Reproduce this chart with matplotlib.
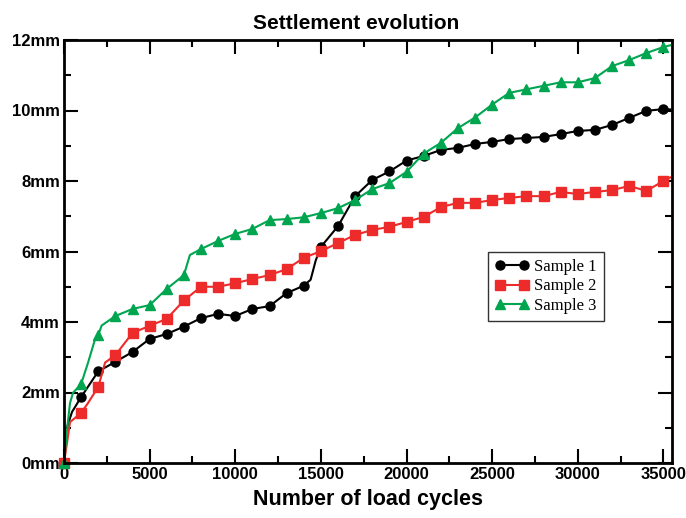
import numpy as np
import matplotlib
matplotlib.use("Agg")
import matplotlib.pyplot as plt
from matplotlib.ticker import MultipleLocator, FuncFormatter

# cycles where the markers sit (every 1000 load cycles)
marker_cycles = list(range(0, 35001, 1000))

sample1 = [0.0, 1.87, 2.60, 2.87, 3.15, 3.52, 3.66, 3.87, 4.11, 4.23,
           4.17, 4.37, 4.45, 4.82, 5.03, 6.13, 6.72, 7.57, 8.03, 8.27,
           8.58, 8.71, 8.88, 8.94, 9.05, 9.11, 9.19, 9.22, 9.25, 9.33,
           9.42, 9.45, 9.59, 9.79, 9.99, 10.04]
sample2 = [0.0, 1.42, 2.16, 3.06, 3.69, 3.89, 4.09, 4.61, 5.00, 5.00,
           5.10, 5.22, 5.33, 5.50, 5.82, 6.01, 6.24, 6.47, 6.61, 6.70,
           6.84, 6.98, 7.26, 7.38, 7.38, 7.46, 7.52, 7.57, 7.57, 7.69,
           7.63, 7.69, 7.74, 7.86, 7.72, 8.00]
sample3 = [0.0, 2.24, 3.63, 4.17, 4.37, 4.48, 4.94, 5.33, 6.07, 6.30,
           6.50, 6.64, 6.89, 6.92, 6.97, 7.09, 7.23, 7.46, 7.77, 7.94,
           8.26, 8.78, 9.08, 9.50, 9.80, 10.17, 10.50, 10.60, 10.70, 10.80,
           10.80, 10.92, 11.26, 11.43, 11.63, 11.80]

# extra points of the traced curve between markers
extra1_x = [100, 470, 14400, 14700, 35400]
extra1_y = [0.90, 1.45, 5.20, 5.75, 10.03]
extra2_x = [175, 350, 1400, 2400, 35400]
extra2_y = [0.57, 1.16, 1.70, 2.85, 8.10]
extra3_x = [175, 350, 525, 1400, 1800, 2200, 7350, 35400]
extra3_y = [0.94, 1.70, 1.99, 2.84, 3.49, 3.90, 5.90, 11.85]

labels = ["Sample 1", "Sample 2", "Sample 3"]
colors = ["black", "#ee2b2b", "#00a550"]
markers = ["o", "s", "^"]


def build(ys, ex, ey):
    x = np.array(marker_cycles + ex, dtype=float)
    y = np.array(ys + ey, dtype=float)
    order = np.argsort(x, kind="stable")
    x, y = x[order], y[order]
    mark = np.isin(x, marker_cycles)
    return x, y, mark


plt.rcParams["font.family"] = ["Liberation Sans", "DejaVu Sans"]

fig = plt.figure(figsize=(6.86, 5.18), dpi=100)
ax = fig.add_axes([64 / 686, 1 - 463 / 518, 608 / 686, 423 / 518])

series = [(sample1, extra1_x, extra1_y), (sample2, extra2_x, extra2_y),
          (sample3, extra3_x, extra3_y)]
for (ys, ex, ey), lab, c, m in zip(series, labels, colors, markers):
    x, y, mark = build(ys, ex, ey)
    ms = 7.5 if m == "^" else 6.5
    ax.plot(x, y, color=c, lw=1.5, marker=m, ms=ms, markevery=list(mark),
            label=lab, clip_on=False)

ax.set_xlim(0, 35500)
ax.set_ylim(0, 12)
ax.xaxis.set_major_locator(MultipleLocator(5000))
ax.xaxis.set_minor_locator(MultipleLocator(2500))
ax.yaxis.set_major_locator(MultipleLocator(2))
ax.yaxis.set_minor_locator(MultipleLocator(1))
ax.yaxis.set_major_formatter(FuncFormatter(lambda v, p: "%dmm" % v))

ax.tick_params(which="both", direction="in", top=True, right=True, width=1.5)
ax.tick_params(which="major", length=10, labelsize=12, pad=3)
ax.tick_params(which="minor", length=5)
for lbl in ax.get_xticklabels() + ax.get_yticklabels():
    lbl.set_fontweight("bold")
for s in ax.spines.values():
    s.set_linewidth(2)

ax.set_title("Settlement evolution", fontsize=15, fontweight="bold", pad=8, x=0.48)
ax.set_xlabel("Number of load cycles", fontsize=15.5, fontweight="bold", labelpad=5)

leg = ax.legend(loc="upper left", bbox_to_anchor=(0.697, 0.50), numpoints=2,
                frameon=True, fancybox=False, handlelength=2.0,
                prop={"family": "Liberation Serif", "size": 12},
                borderpad=0.45, labelspacing=0.2, handletextpad=0.35,
                borderaxespad=0)
leg.get_frame().set_edgecolor("black")
leg.get_frame().set_linewidth(1.0)

fig.savefig("out.png", dpi=100)
